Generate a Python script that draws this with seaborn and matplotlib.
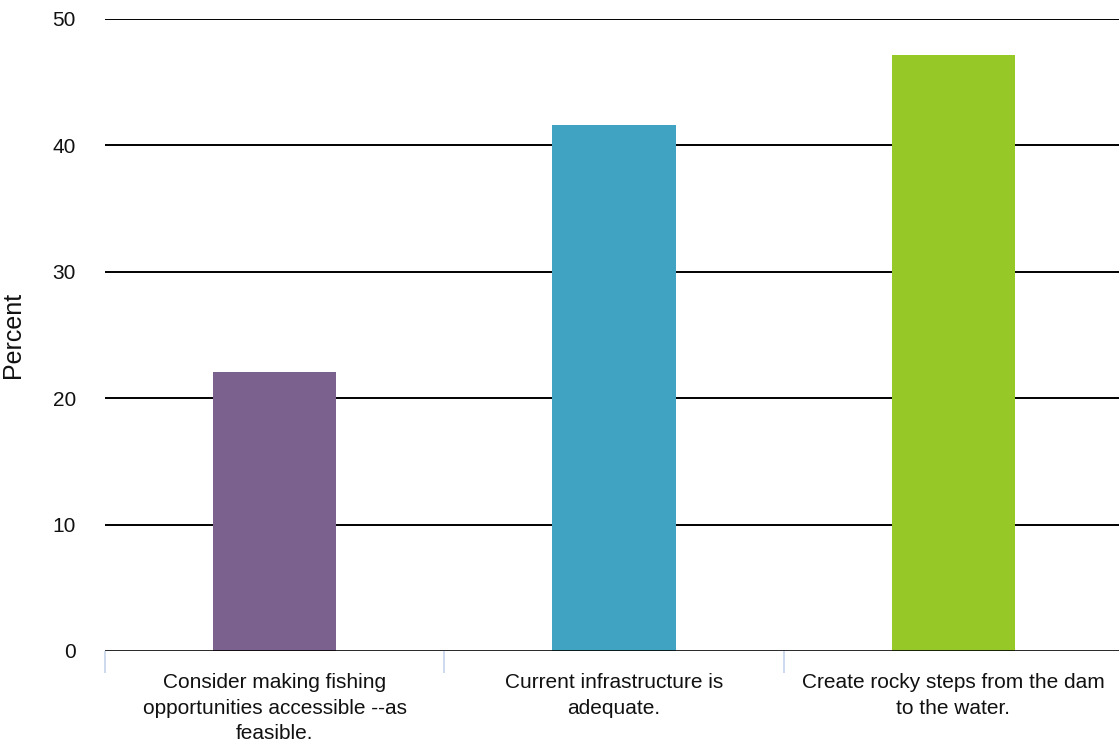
import matplotlib
matplotlib.use("Agg")
import matplotlib.pyplot as plt
import seaborn as sns
import pandas as pd
from matplotlib.ticker import FixedLocator

categories = [
    "Consider making fishing\nopportunities accessible --as\nfeasible.",
    "Current infrastructure is\nadequate.",
    "Create rocky steps from the dam\nto the water.",
]
percent = [22.1, 41.6, 47.1]
bar_colors = ["#7B618E", "#41A3C2", "#96C827"]
y_ticks = [0, 10, 20, 30, 40, 50]

sns.set_theme(style="white")
plt.rcParams["font.family"] = ["Liberation Sans", "DejaVu Sans"]

df = pd.DataFrame({"category": categories, "percent": percent})

fig = plt.figure(figsize=(11.19, 7.5), dpi=100)
ax = fig.add_axes([105 / 1119, 99 / 750, 1018 / 1119, 632.3 / 750])

sns.barplot(data=df, x="category", y="percent", hue="category",
            palette=bar_colors, width=0.363, legend=False, ax=ax,
            saturation=1, linewidth=0, zorder=3)

ax.set_ylim(0, 50)
ax.set_xlim(-0.5, 2.5)
ax.set_yticks(y_ticks)
ax.set_yticklabels([str(t) for t in y_ticks], fontsize=15, color="#111111")
for t in y_ticks[1:]:
    ax.axhline(t, color="black", lw=1.4, zorder=2)
ax.axhline(0, color="black", lw=1.9, zorder=4)

for s in ax.spines.values():
    s.set_visible(False)

ax.tick_params(axis="y", length=0, pad=21)
ax.tick_params(axis="x", which="major", length=0, pad=16, labelsize=15,
               labelcolor="#111111", bottom=True)
for lbl in ax.get_xticklabels():
    lbl.set_linespacing(1.42)
ax.xaxis.set_minor_locator(FixedLocator([-0.5, 0.5, 1.5, 2.5]))
ax.tick_params(axis="x", which="minor", length=16, width=1.2, bottom=True,
               color="#C5D3EA", direction="out")

ax.set_xlabel("")
ax.set_ylabel("Percent", fontsize=18, color="#111111", labelpad=20)

fig.savefig("out.png", dpi=100)
